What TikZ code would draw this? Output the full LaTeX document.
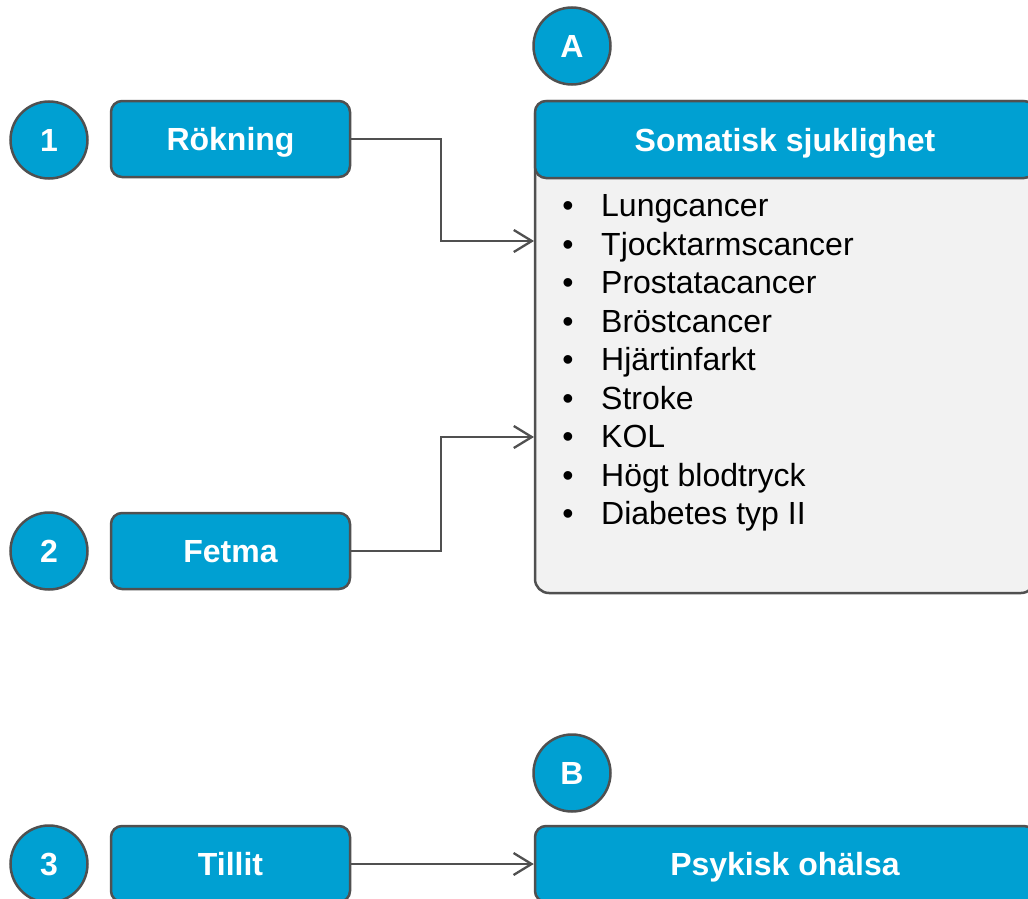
\documentclass[tikz,border=0pt]{standalone}
\usepackage{fontspec}
\setmainfont{Liberation Sans}
\usetikzlibrary{arrows.meta}
\definecolor{blu}{HTML}{00A0D2}
\definecolor{edgec}{HTML}{505050}
\definecolor{pale}{HTML}{F2F2F2}
\begin{document}
\begin{tikzpicture}[x=1pt,y=-1pt,
  lbl/.style={font=\fontsize{32}{38}\selectfont\bfseries, text=white, text height=23pt, text depth=0pt},
  num/.style={circle, draw=edgec, line width=2.5pt, fill=blu, minimum size=77pt, inner sep=0pt, lbl},
  cause/.style={rectangle, rounded corners=11pt, draw=edgec, line width=2.5pt, fill=blu, minimum width=239pt, minimum height=76pt, inner sep=0pt, lbl},
  panel/.style={rectangle, rounded corners=14pt, draw=edgec, line width=2.5pt, fill=pale, inner sep=0pt},
  item/.style={font=\fontsize{32}{38}\selectfont, text=black, inner sep=0pt, anchor=base west},
  bul/.style={font=\fontsize{32}{38}\selectfont, text=black, inner sep=0pt, anchor=base},
  conn/.style={draw=edgec, line width=2.3pt, -{Straight Barb[length=18pt,width=22pt,line width=2.3pt]}}]
\useasboundingbox (0,0) rectangle (1028,899);

% numbered circles
\node[num] (n1) at (49,140) {1};
\node[num] (n2) at (49,551) {2};
\node[num] (n3) at (49,864) {3};
\node[num] (na) at (572,46) {A};
\node[num] (nb) at (572,773) {B};

% causes
\node[cause] (rok) at (230.5,139) {Rökning};
\node[cause] (fet) at (230.5,551) {Fetma};
\node[cause] (til) at (230.5,864) {Tillit};

% somatic panel
\node[panel, minimum width=500pt, minimum height=492pt] (som) at (785,347) {};
\node[cause, minimum width=500pt, minimum height=77pt] (somh) at (785,139.5) {Somatisk sjuklighet};

\foreach \t [count=\i] in {Lungcancer,Tjocktarmscancer,Prostatacancer,Bröstcancer,Hjärtinfarkt,Stroke,KOL,Högt blodtryck,Diabetes typ II}{
  \node[bul] (b\i) at (568,{216.5+38.5*(\i-1)}) {\textbullet};
  \node[item] (it\i) at (601,{216.5+38.5*(\i-1)}) {\t};
}

% psychic
\node[cause, minimum width=500pt, minimum height=76pt] (psy) at (785,864) {Psykisk ohälsa};

% connectors
\coordinate (k1) at (441,241);
\coordinate (k2) at (441,437);
\coordinate (t1) at (534,241);
\coordinate (t2) at (534,437);
\draw[conn] (rok.east) -| (k1) -- (t1);
\draw[conn] (fet.east) -| (k2) -- (t2);
\draw[conn] (til.east) -- (psy.west);
\end{tikzpicture}
\end{document}
